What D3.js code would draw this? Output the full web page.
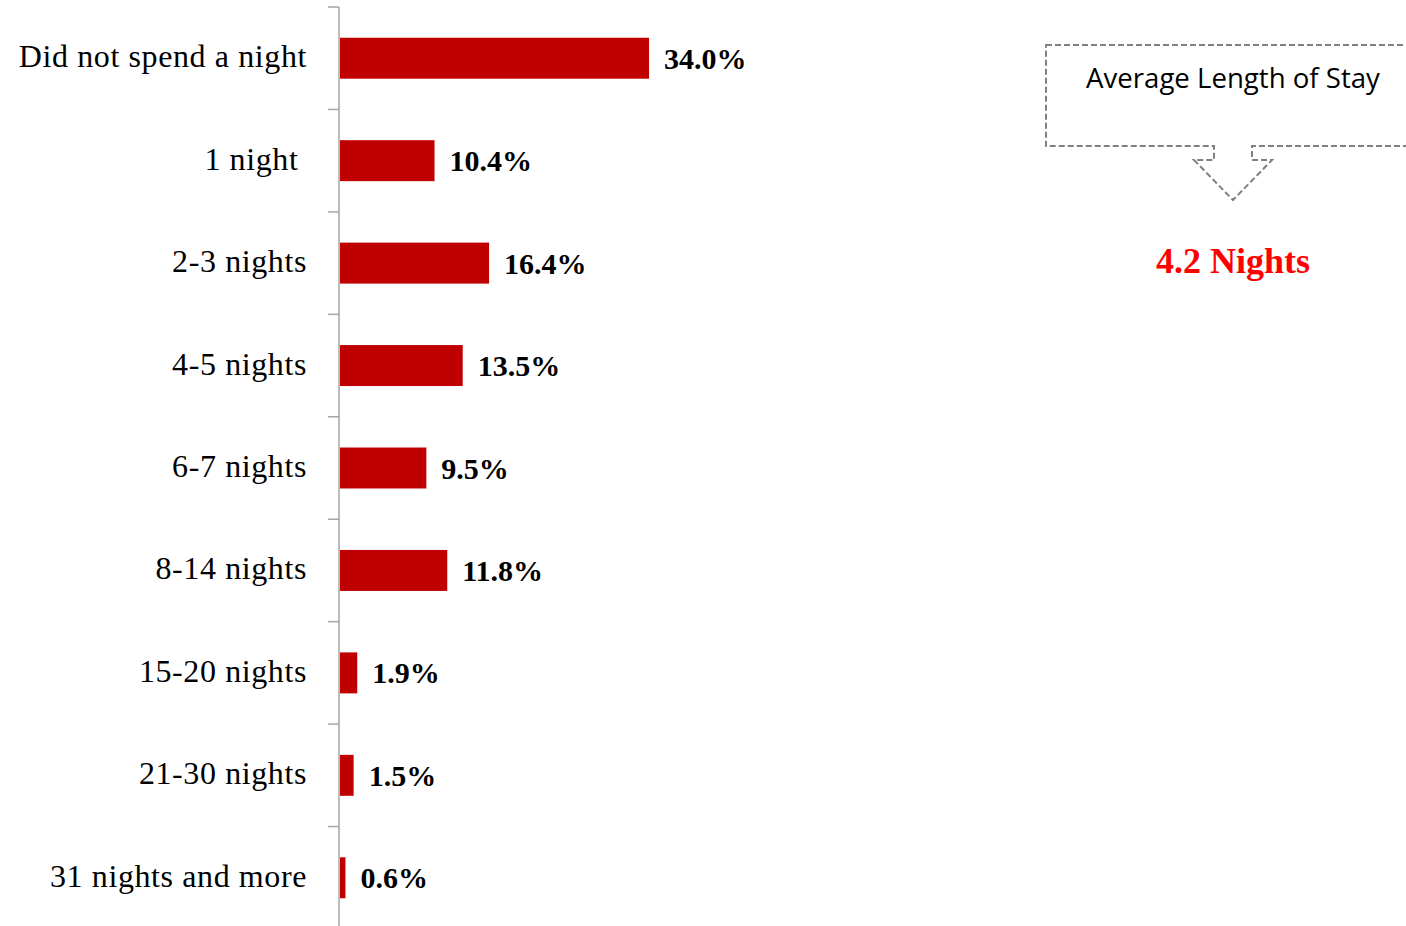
<!DOCTYPE html>
<html>
<head>
<meta charset="utf-8">
<script src="https://cdn.jsdelivr.net/npm/d3@7"></script>
<style>
  html, body { margin: 0; padding: 0; background: #fff; }
  svg { display: block; }
</style>
</head>
<body>
<svg id="chart" width="1406" height="926"></svg>
<script>
// Length of stay distribution (% of visitors)
const categories = [
  "Did not spend a night", "1 night ", "2-3 nights", "4-5 nights", "6-7 nights",
  "8-14 nights", "15-20 nights", "21-30 nights", "31 nights and more"
];
const shares = [34.0, 10.4, 16.4, 13.5, 9.5, 11.8, 1.9, 1.5, 0.6];
const calloutTitle = "Average Length of Stay";
const calloutValue = "4.2 Nights";

const svg = d3.select("#chart");

const axisX = 339;
const x = d3.scaleLinear().domain([0, 100]).range([axisX, axisX + 909]);
const y = d3.scaleBand()
  .domain(categories)
  .range([7, 929])
  .paddingInner(0.6)
  .paddingOuter(0.3);

const gap = (y.step() - y.bandwidth()) / 2;

// Vertical category axis with ticks between bands
const axisColor = "#a6a6a6";
svg.append("line")
  .attr("x1", axisX).attr("x2", axisX)
  .attr("y1", y(categories[0]) - gap).attr("y2", 926)
  .attr("stroke", axisColor).attr("stroke-width", 1.5);

const boundaries = categories.map(c => y(c) - gap);
svg.append("g").selectAll("line").data(boundaries).join("line")
  .attr("x1", axisX - 11).attr("x2", axisX)
  .attr("y1", d => d).attr("y2", d => d)
  .attr("stroke", axisColor).attr("stroke-width", 1.5);

// Bars
svg.append("g").selectAll("rect").data(shares).join("rect")
  .attr("x", x(0) + 1)
  .attr("y", (d, i) => y(categories[i]))
  .attr("width", d => x(d) - x(0))
  .attr("height", y.bandwidth())
  .attr("fill", "#c00000");

// Category labels
svg.append("g").selectAll("text").data(categories).join("text")
  .attr("x", 307)
  .attr("y", d => y(d) + y.bandwidth() / 2 - 2)
  .attr("text-anchor", "end")
  .attr("dominant-baseline", "central")
  .style("white-space", "pre")
  .attr("font-family", "'Liberation Serif', 'DejaVu Serif', serif")
  .attr("font-size", 32)
  .attr("letter-spacing", 0.6)
  .attr("fill", "#000")
  .text(d => d);

// Value labels
svg.append("g").selectAll("text").data(shares).join("text")
  .attr("x", d => x(d) + 16)
  .attr("y", (d, i) => y(categories[i]) + y.bandwidth() / 2)
  .attr("dominant-baseline", "central")
  .attr("font-family", "'Liberation Serif', 'DejaVu Serif', serif")
  .attr("font-weight", "bold")
  .attr("font-size", 30)
  .attr("fill", "#000")
  .text(d => d.toFixed(1) + "%");

// Callout box with downward arrow
const bx0 = 1046, bx1 = 1420, by0 = 45, by1 = 146;
const cx = 1233;
const shaftHalf = 19, headHalf = 39, shaftBottom = 160, tipY = 200;
const callout = d3.path();
callout.moveTo(bx0, by0);
callout.lineTo(bx1, by0);
callout.lineTo(bx1, by1);
callout.lineTo(cx + shaftHalf, by1);
callout.lineTo(cx + shaftHalf, shaftBottom);
callout.lineTo(cx + headHalf, shaftBottom);
callout.lineTo(cx, tipY);
callout.lineTo(cx - headHalf, shaftBottom);
callout.lineTo(cx - shaftHalf, shaftBottom);
callout.lineTo(cx - shaftHalf, by1);
callout.lineTo(bx0, by1);
callout.closePath();

svg.append("path")
  .attr("d", callout.toString())
  .attr("fill", "none")
  .attr("stroke", "#808080")
  .attr("stroke-width", 2)
  .attr("stroke-dasharray", "6,3");

svg.append("text")
  .attr("x", cx)
  .attr("y", 88)
  .attr("text-anchor", "middle")
  .attr("font-family", "'Open Sans', 'Liberation Sans', sans-serif")
  .attr("font-size", 27.6)
  .attr("fill", "#000")
  .text(calloutTitle);

svg.append("text")
  .attr("x", cx)
  .attr("y", 273)
  .attr("text-anchor", "middle")
  .attr("font-family", "'Liberation Serif', 'DejaVu Serif', serif")
  .attr("font-weight", "bold")
  .attr("font-size", 36)
  .attr("fill", "#ff0000")
  .text(calloutValue);
</script>
</body>
</html>
